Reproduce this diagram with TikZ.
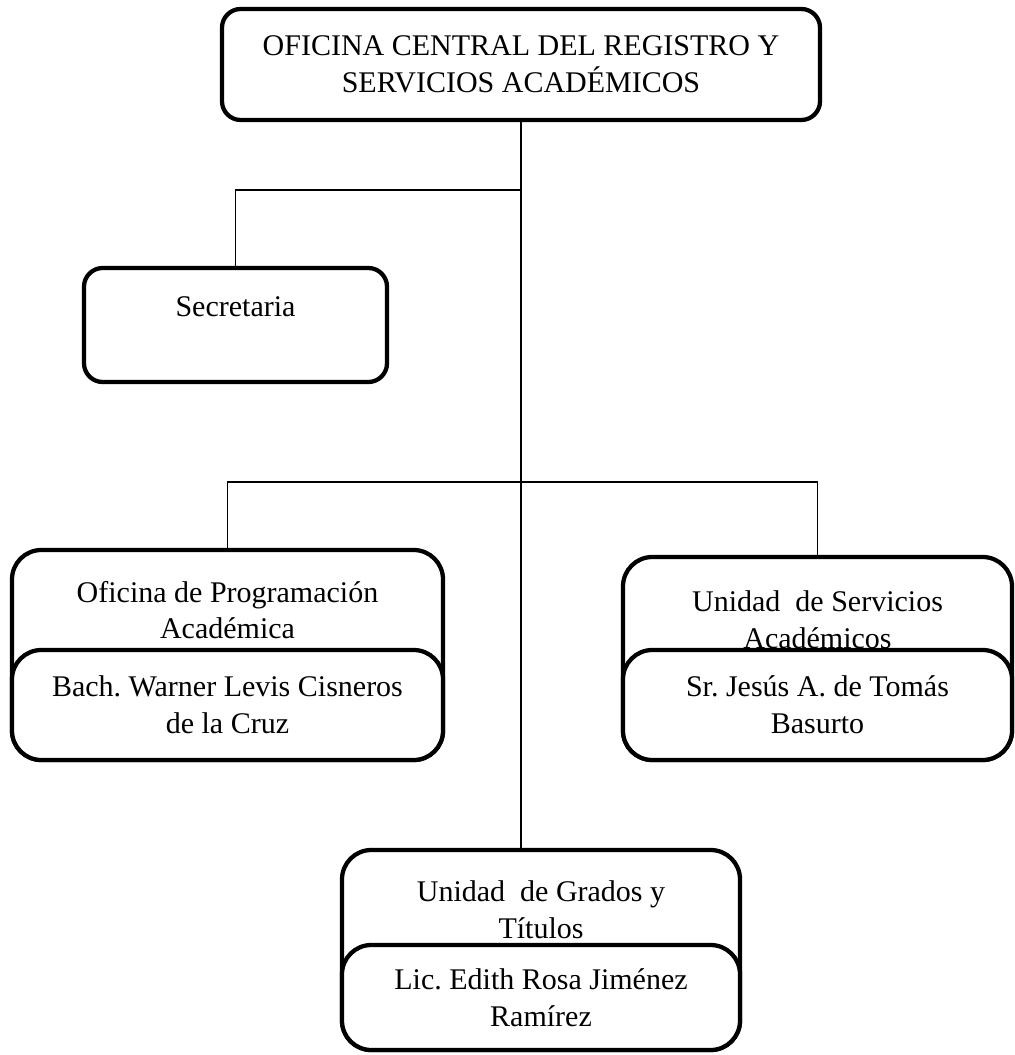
\documentclass[tikz,border=0pt]{standalone}
\usepackage{fontspec}
\setmainfont{Liberation Serif}
\frenchspacing
\tikzset{every picture/.style={line width=0.75pt}}
\tikzset{
  caja/.style={draw, line width=3.2pt, rounded corners=22pt, fill=white, align=center, inner sep=0pt},
  cajachica/.style={caja, rounded corners=14pt},
  texto/.style={align=center, inner sep=0.75pt},
  linea/.style={line width=1.1pt}
}

\begin{document}
\begin{tikzpicture}[x=0.75pt,y=0.75pt,yscale=-1,xscale=1]
\fontsize{22.5}{27.5}\selectfont
\useasboundingbox (0,0) rectangle (1014,1055);

%Shape: Rounded Rectangle [id:ofcentral]
\node [cajachica, minimum width=448.5pt, minimum height=83.25pt] (central) at (521,64.5) {OFICINA CENTRAL DEL REGISTRO Y\\SERVICIOS ACADÉMICOS};

%Shape: Rounded Rectangle [id:secretaria]
\node [cajachica, minimum width=227.25pt, minimum height=85.5pt] (secre) at (235.5,325) {Secretaria\\\mbox{}};

%Shape: Rounded Rectangle [id:programacion]
\node [caja, minimum width=323.25pt, minimum height=157.5pt] (prog) at (227.5,655) {};
\node [caja, minimum width=323.25pt, minimum height=82.5pt] (progjefe) at (227.5,705) {Bach. Warner Levis Cisneros\\de la Cruz};
% Text Node
\node [texto] (progtit) at (227.5,610) {Oficina de Programación\\Académica};

%Shape: Rounded Rectangle [id:servicios]
\node [caja, minimum width=291.75pt, minimum height=152.25pt] (serv) at (817.5,658.5) {};
\node [caja, minimum width=291.75pt, minimum height=82.5pt] (servjefe) at (817.5,705) {Sr. Jesús A. de Tomás\\Basurto};
% Text Node
\node [texto] (servtit) at (817.5,619.5) {Unidad\ \ de Servicios\\Académicos};

%Shape: Rounded Rectangle [id:grados]
\node [caja, minimum width=298.5pt, minimum height=150pt] (grad) at (541,950) {};
\node [caja, minimum width=298.5pt, minimum height=78.75pt] (gradjefe) at (541,997.5) {Lic. Edith Rosa Jiménez\\Ramírez};
% Text Node
\node [texto] (gradtit) at (541,910) {Unidad\ \ de Grados y\\Títulos};

% junctions on the trunk
\coordinate (j1) at (521,190);
\coordinate (j2) at (521,482);

%Straight Lines [id:tronco]
\draw [linea] (central.south -| j1) -- (grad.north -| j1);
%Straight Lines [id:rama secretaria]
\draw [linea] (j1) -| (secre.north);
%Straight Lines [id:rama unidades]
\draw [linea] (prog.north) |- (j2) -| (serv.north);

\end{tikzpicture}
\end{document}
